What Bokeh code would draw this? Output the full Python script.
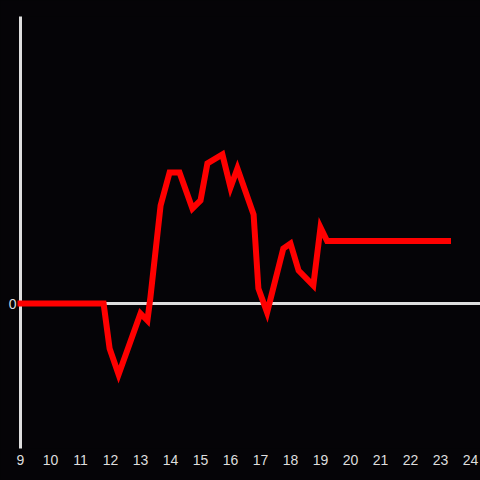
from bokeh.plotting import figure
from bokeh.models import Span, FixedTicker
from bokeh.embed import file_html
from bokeh.resources import INLINE

hours = [9.0, 11.77, 11.97, 12.27, 13.0, 13.23, 13.33, 13.67, 13.97, 14.3, 14.73,
         15.0, 15.23, 15.73, 16.0, 16.23, 16.77, 16.93, 17.22, 17.76, 18.0, 18.27,
         18.76, 19.0, 19.22, 23.25]
values = [0, 0, -45, -71, -10, -17, 6, 98, 131, 131, 95,
          103, 140, 149, 116, 135, 89, 15, -9, 55, 60, 33,
          18, 76, 62.5, 62.5]
x_ticks = list(range(9, 25))
y_ticks = [0]

BG = "#050407"
FG = "#dedede"

p = figure(width=480, height=480, x_range=(9, 24.3333), y_range=(-145, 287),
           output_backend="svg", toolbar_location=None,
           background_fill_color=BG, border_fill_color=BG,
           min_border_left=20, min_border_right=0, min_border_top=16, min_border_bottom=32)
p.styles = {"background-color": BG}
p.outline_line_color = None
p.grid.visible = False

p.xaxis.ticker = FixedTicker(ticks=x_ticks)
p.yaxis.ticker = FixedTicker(ticks=y_ticks)
for ax in (p.xaxis[0], p.yaxis[0]):
    ax.major_tick_line_color = None
    ax.minor_tick_line_color = None
    ax.major_tick_out = 0
    ax.major_tick_in = 0
    ax.major_label_text_color = FG
    ax.major_label_text_font = "Liberation Sans"
    ax.major_label_text_font_size = "14px"
p.xaxis.axis_line_color = None
p.xaxis.major_label_standoff = 6
p.yaxis.axis_line_color = FG
p.yaxis.axis_line_width = 3
p.yaxis.major_label_standoff = 4

zero = Span(location=0, dimension="width", line_color=FG, line_width=3, level="underlay")
p.add_layout(zero)

r = p.line(hours, values, line_color="#ff0000", line_width=6,
           line_join="miter", line_cap="square")
r.level = "overlay"

open("out.html", "w").write(file_html(p, INLINE))
